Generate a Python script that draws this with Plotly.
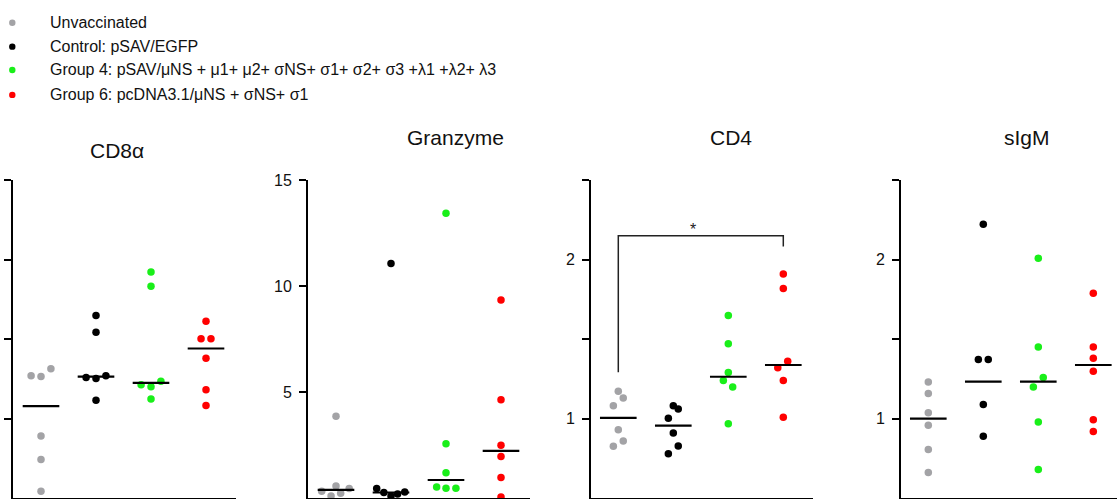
import plotly.graph_objects as go

W, H = 1117, 499

group_names = [
    "Unvaccinated",
    "Control: pSAV/EGFP",
    "Group 4: pSAV/μNS + μ1+ μ2+ σNS+ σ1+ σ2+ σ3 +λ1 +λ2+ λ3",
    "Group 6: pcDNA3.1/μNS + σNS+ σ1",
]
group_colors = ["#a3a3a6", "#000000", "#19ef19", "#ff0000"]

panel_titles = ["CD8α", "Granzyme", "CD4", "sIgM"]

# ---- CD8α ----
cd8_unvacc = [1.270, 1.264, 1.314, 0.891, 0.742, 0.543]
cd8_control = [1.258, 1.252, 1.270, 1.115, 1.543, 1.649]
cd8_group4 = [1.212, 1.200, 1.235, 1.123, 1.833, 1.922]
cd8_group6 = [1.502, 1.502, 1.612, 1.380, 1.181, 1.082]
cd8_medians = [1.078, 1.264, 1.224, 1.441]

# ---- Granzyme ----
gzm_unvacc = [0.32, 0.57, 0.45, 0.09, 0.22, 3.86]
gzm_control = [0.45, 0.26, 0.09, 0.19, 0.28, 11.07]
gzm_group4 = [13.44, 2.56, 1.19, 0.52, 0.46, 0.46]
gzm_group6 = [9.35, 4.64, 2.49, 1.96, 0.97, 0.05]
gzm_medians = [0.38, 0.26, 0.85, 2.22]

# ---- CD4 ----
cd4_unvacc = [1.172, 1.129, 1.081, 0.930, 0.859, 0.826]
cd4_control = [1.081, 1.060, 1.002, 0.909, 0.828, 0.778]
cd4_group4 = [1.648, 1.470, 1.290, 1.240, 1.199, 0.967]
cd4_group6 = [1.909, 1.818, 1.360, 1.319, 1.240, 1.008]
cd4_medians = [1.004, 0.955, 1.263, 1.337]

# ---- sIgM ----
sigm_unvacc = [1.230, 1.157, 1.037, 0.958, 0.805, 0.660]
sigm_control = [1.371, 1.371, 2.222, 1.089, 0.888]
sigm_group4 = [2.009, 1.450, 1.259, 1.199, 0.979, 0.679]
sigm_group6 = [1.789, 1.450, 1.379, 1.298, 0.992, 0.919]
sigm_medians = [1.000, 1.232, 1.232, 1.337]

# horizontal scatter offsets of overlapping dots (category units)
cd8_jitter = [[-0.18, 0, 0.18, 0, 0, 0], [-0.18, 0, 0.18, 0, 0, 0],
              [-0.18, 0, 0.18, 0, 0, 0], [-0.09, 0.09, 0, 0, 0, 0]]
gzm_jitter = [[-0.26, 0, 0.24, -0.09, 0.085, 0], [-0.26, -0.13, 0, 0.12, 0.25, 0],
              [0, 0, 0, -0.17, 0, 0.18], [0, 0, 0, 0, 0, 0]]
cd4_jitter = [[0, 0.09, -0.09, 0, 0.09, -0.09], [0, 0.09, -0.09, 0, 0.09, -0.09],
              [0, 0, 0, -0.09, 0.08, 0], [0, 0, 0.08, -0.1, 0, 0]]
sigm_jitter = [[0, 0, 0, 0, 0, 0], [-0.09, 0.09, 0, 0, 0],
               [0, 0, 0.09, -0.09, 0, 0], [0, 0, 0, 0, 0, 0]]

# CD4 significance bracket (Unvaccinated vs Group 6)
cd4_bracket_groups = [1, 4]
cd4_bracket_label = "*"

panels = [
    dict(data=[cd8_unvacc, cd8_control, cd8_group4, cd8_group6], med=cd8_medians, jit=cd8_jitter,
         yrange=[0.5, 2.5], tickvals=[1, 1.5, 2, 2.5], ticktext=["", "", "", ""],
         xpx=(13, 236), c1=41),
    dict(data=[gzm_unvacc, gzm_control, gzm_group4, gzm_group6], med=gzm_medians, jit=gzm_jitter,
         yrange=[0, 15], tickvals=[5, 10, 15], ticktext=["5", "10", "15"],
         xpx=(308, 530), c1=336),
    dict(data=[cd4_unvacc, cd4_control, cd4_group4, cd4_group6], med=cd4_medians, jit=cd4_jitter,
         yrange=[0.5, 2.5], tickvals=[1, 1.5, 2, 2.5], ticktext=["1", "", "2", ""],
         xpx=(591, 813), c1=618.3),
    dict(data=[sigm_unvacc, sigm_control, sigm_group4, sigm_group6], med=sigm_medians, jit=sigm_jitter,
         yrange=[0.5, 2.5], tickvals=[1, 1.5, 2, 2.5], ticktext=["1", "", "2", ""],
         xpx=(901, 1117), c1=928.3),
]

FONT = "Arial, Liberation Sans, Helvetica, sans-serif"
UNIT = 55.0  # px between group columns
TOP_PX, BOT_PX = 175, 498

fig = go.Figure()
layout = dict(width=W, height=H, margin=dict(l=0, r=0, t=0, b=0),
              paper_bgcolor="white", plot_bgcolor="white", showlegend=False,
              font=dict(family=FONT, color="#000000"))

for i, p in enumerate(panels):
    k = "" if i == 0 else str(i + 1)
    xa, ya = "x" + k, "y" + k
    for g in range(4):
        vals = p["data"][g]
        xs = [g + 1 + o for o in p["jit"][g]]
        fig.add_trace(go.Scatter(x=xs, y=vals, mode="markers", xaxis=xa, yaxis=ya,
                                 marker=dict(size=7.5, color=group_colors[g], line=dict(width=0)),
                                 name=group_names[g], hoverinfo="y"))
    mx, my = [], []
    for g, m in enumerate(p["med"]):
        mx += [g + 1 - 0.333, g + 1 + 0.333, None]
        my += [m, m, None]
    fig.add_trace(go.Scatter(x=mx, y=my, mode="lines", xaxis=xa, yaxis=ya,
                             line=dict(color="black", width=2.2), hoverinfo="skip"))
    x0px, x1px = p["xpx"]
    left = 1 - (p["c1"] - x0px) / UNIT
    right = 1 + (x1px - p["c1"]) / UNIT
    layout["xaxis" + k] = dict(domain=[x0px / W, x1px / W], range=[left, right], anchor=ya,
                               showgrid=False, zeroline=False, showticklabels=False, ticks="",
                               showline=True, linecolor="black", linewidth=2, fixedrange=True)
    layout["yaxis" + k] = dict(domain=[(H - BOT_PX) / H, (H - TOP_PX) / H], range=p["yrange"],
                               anchor=xa, showgrid=False, zeroline=False, showline=True,
                               linecolor="black", linewidth=2, ticks="outside", ticklen=7,
                               tickwidth=1.6, tickcolor="black", tickvals=p["tickvals"],
                               ticktext=p["ticktext"], tickfont=dict(size=16, family=FONT, color="#111"),
                               ticklabelstandoff=4, fixedrange=True)

fig.update_layout(**layout)

# significance bracket on CD4 panel
ga, gb = cd4_bracket_groups
fig.add_trace(go.Scatter(x=[ga, ga, gb, gb], y=[1.292, 2.151, 2.151, 2.083], mode="lines",
                         xaxis="x3", yaxis="y3", line=dict(color="#222", width=1.5), hoverinfo="skip"))
fig.add_annotation(x=2.36, y=2.19, xref="x3", yref="y3", text=cd4_bracket_label, showarrow=False,
                   font=dict(size=16, family=FONT, color="#222"))

# panel titles
title_pos = [(117, 144.5), (455, 132), (731, 132), (1026.7, 132)]
for t, (px, py) in zip(panel_titles, title_pos):
    fig.add_annotation(x=px / W, y=1 - py / H, xref="paper", yref="paper", text=t, showarrow=False,
                       xanchor="center", yanchor="middle", font=dict(size=21, family=FONT, color="#111"))

# legend (manual, top-left)
leg_y = [15, 39.3, 63, 88.3]
for name, col, py in zip(group_names, group_colors, leg_y):
    fig.add_shape(type="circle", xref="paper", yref="paper", xsizemode="pixel", ysizemode="pixel",
                  xanchor=12.3 / W, yanchor=1 - py / H, x0=-3.2, x1=3.2, y0=-3.2, y1=3.2,
                  fillcolor=col, line=dict(width=0))
    fig.add_annotation(x=48.3 / W, y=1 - py / H, xref="paper", yref="paper", text=name,
                       showarrow=False, xanchor="left", yanchor="middle",
                       font=dict(size=16, family=FONT, color="#111"))

fig.write_html("out.html", config={"displayModeBar": False},
               post_script="document.body.style.margin='0';document.body.style.overflow='hidden';")
